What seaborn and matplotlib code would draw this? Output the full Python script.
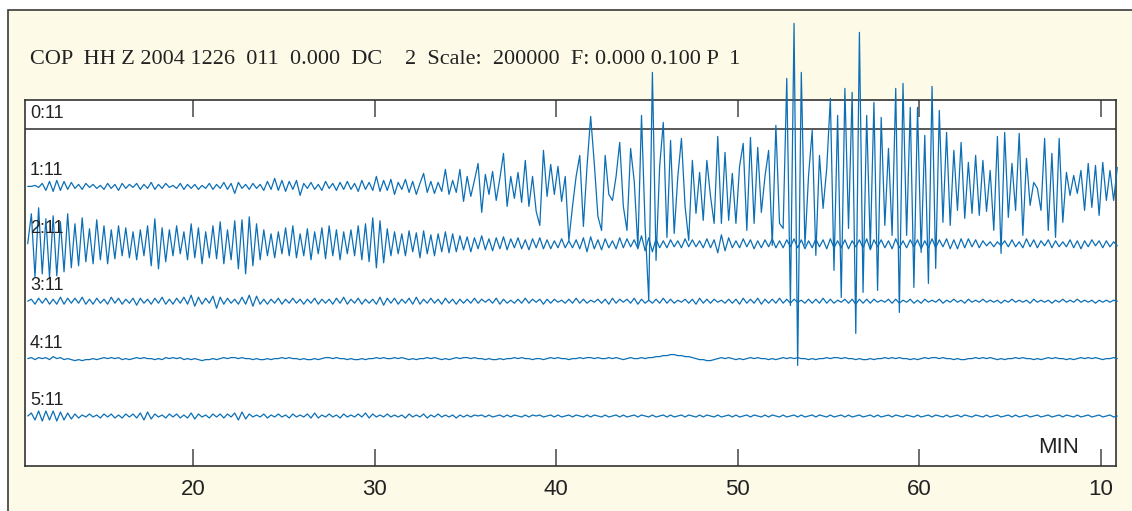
import matplotlib
matplotlib.use("Agg")
import numpy as np
import pandas as pd
import matplotlib.pyplot as plt
import seaborn as sns
from matplotlib.patches import Rectangle

# header of the helicorder page
header_left = "COP  HH Z 2004 1226  011  0.000  DC"
header_right = "2  Scale:  200000  F: 0.000 0.100 P  1"

# one line per hour, labelled with the start time
trace_labels = ["0:11", "1:11", "2:11", "3:11", "4:11", "5:11"]
t_start = 10.9      # minute of first sample
dt = 0.2            # minutes between samples

minute_ticks = [20, 30, 40, 50, 60, 70]
minute_ticklabels = ["20", "30", "40", "50", "60", "10"]

# amplitudes (display counts), one list per hour line
trace_1 = [
    0, 0, 1, -1, 3, -4, 5, -5, 6, -4, 5, -3, 4,
    -2, 2, -3, 3, -1, 2, -2, 1, -3, 3, -2, 2, -4, 3, -2, 2, -1, 3, -3, 2,
    -2, 4, -3, 2, -2, 3, -1, 1, -2, 3, -3, 2, -2,
    2, -3, 1, -2, 3, -3, 2, -2, 4, -3, 3, -7, 4, -2, 2,
    -3, 3, -2, 2, -4, 5, -3, 8, -4, 6, -5, 5, -3, 6, -9, 3, -2, 4, -3, 2,
    -4, 5, -2, 3, -4, 4, -3, 5, -3, 3, -5, 6, -3, 4, -4, 10,
    -5, 6, -4, 7, -8, 4, -3, 7, -6, 5, -8, 3, 13, -6, 5, -7, 4, -5, 17, -8, 6, -6,
    17, -15, 10, -10, 6, 23, -26,
    12, -8, 15, -14, 8, 33, -20, 10, -12, 14, -16, 26, -20, 10, -25,
    -39, 36, -10, 22, -8, 20, -15, 10, -54,
    -20, 10, 31, -40, 20, 70, 23, -30, -44, 31,
    -8, -14, 10, 44, -20, -44, 38, 5, -61, 71,
    -40, -114, 114, -74, 20, 64, -51, 46, -47, 10,
    48, -20, -54, 26, -27, 14, -34, 26, -10, -37,
    50, -37, 34, -34, 13, -37, 20, 43, -44, 49,
    -37, 39, -26, 10, 36, -59, 61, -37, -42, 108,
    -119, 163, -179, 114, -59, 11, 56, -69, 31, -22,
    18, 88, -84, 71, -111, 98, -42, 94, -147, 154,
    -106, 71, -62, 84, -104, 69, -39, 38, -49, 98,
    -126, 103, -49, 79, -101, 79, -66, 51, -97, 100,
    -82, 76, -36, 54, -39, 36, -24, 44, -32, 24,
    -27, 31, -29, 26, -25, 16, -44, 50, -67, 54,
    -31, 23, -24, 53, -49, 28, -19, 4, -2, -24,
    48, -44, 33, -51, 48, -36, 14, -9, 11, -7,
    16, -24, 23, -21, 21, -29, 24, -14, 16, -14,
    19,
]

trace_2 = [
    0, 30, -33, 36, -30, 25, -34, 28, -32, 22, -28, 30, -24,
    20, -22, 26, -18, 15, -20, 24, -16, 18, -20, 14, -15, 18, -12, 16, -14, 12, -16,
    14, -12, 18, -22, 25, -25, 16, -18, 14, -12, 18, -10, 12, -16, 20,
    -14, 16, -20, 12, -14, 18, -15, 22, -20, 14, -16, 23, -25, 24, -30, 27, -22,
    20, -16, 14, -12, 10, -14, 12, -10, 16, -12, 18, -14, 10, -12, 15, -16, 12,
    -10, 16, -15, 18, -12, 14, -16, 12, -10, 14, -12, 18, -16, 20, -18, 26,
    -24, 23, -19, 15, -12,
    12, -10, 10, -12, 13, -8, 11, -14, 13, -10, 9, -12, 10, -8, 12, -9, 10, -8,
    8, -6, 7, -8, 6, -5, 8, -6, 5, -7, 6, -5, 7, -6, 5, -4,
    6, -5, 4, -6, 5, -4, 6, -5, 4, -5, 3, -4, 5, -4, 3, -4,
    4, -5, 6, -8, 7, -5, 4, -6, 5, -4, 3, -5, 6, -4, 5, -3, 4, -5, 8, -7,
    6, -8, 5, -4, 3, -4, 4, -3, 3, -4, 5, -3, 4, -3, 3, -4, 5, -4, 4, -9,
    9, -7, 6, -4, 3, -4, 5, -3, 4, -5, 3, -4, 4, -3, 5, -4, 3, -4, 4, -3,
    5, -4, 4, -5, 3, -4, 5, -3, 4, -5, 5, -4, 3, -4, 4, -5, 3, -3, 4, -4,
    5, -6, 4, -3, 4, -4, 3, -5, 5, -4, 3, -4, 4, -3, 4, -5, 3, -4, 5, -4,
    4, -3, 5, -5, 4,
    -5, 5, -4, 5, -3, 4, -4, 3, -2, 2, -3, 2, -2, 3, -3, 4, -3, 2, -4, 5,
    -3, 4, -4, 3, -2, 4, -4, 3, -3, 2, -3, 4, -4, 3, -5, 3, -3, 4, -2, 3,
    -4, 3, -3, 2, -2,
]

trace_3 = [
    0, 2, -3, 3, -2, 3, -3, 2, -3, 4, -3, 3, -2,
    3, -2, 4, -3, 2, -3, 3, -2, 2, -3, 4, -2, 3, -3, 2, -2, 3, -4, 3, -2,
    2, -3, 3, -2, 4, -3, 2, -3,
    3, -2, 4, -3, 6, -5, 4, -3, 3, -2, 5, -7, 4, -3, 3, -2, 2, -3, 4, -3,
    6, -5, 5, -3, 2,
    -3, 2, -2, 3, -3, 2, -2, 3, -2, 2, -3, 2, -2, 3, -3, 2, -2, 2, -3, 3,
    -2, 4, -3, 2, -2, 3, -3, 2, -2, 2, -3, 4, -4, 3, -2, 3, -3, 2, -2, 3,
    -3, 4, -3, 2, -2, 3, -2, 2, -3, 3, -2, 2, -3, 2, -2,
    2, -2, 3, -2, 2, -1, 2, -2, 3, -3, 2, -2, 1, -2, 2, -2, 3, -2, 2, -1,
    2, -3, 2, -2, 2, -1, 1, -2, 2, -2, 3, -2, 2, -2, 1, -1, 2, -2, 2, -3,
    3, -2, 2, -1, 2, -2, 3, -3, 2, -2, 1, -2, 2, -2, 3, -2, 2, -2, 1, -1,
    2, -2, 2, -3, 3, -2, 2, -2, 2, -1, 1, -2, 2, -2, 2, -3, 3, -2, 2, -2,
    3, -3, 2, -2, 2, -2, 3, -2, 2, -2, 2, -1, 1, -2, 2, -2, 2, -2, 3, -2,
    2, -2, 1, -1, 2, -2, 2, -3, 2, -2, 2, -2, 2, -1, 1, -1, 2, -2, 2, -2,
    1, -1, 2, -2, 1, -2, 2, -1, 1, -1, 2, -2, 1, -1, 2, -1, 1, -2, 2, -1,
    1, -1, 2, -1, 1, -1, 1, -2, 1, -1, 2, -1, 1, -1, 1, -2, 2, -1, 1, -1,
    1, -2, 1, -1, 2, -1, 1, -1, 2, -1, 1, -1, 1, -2, 1, -1, 1, -1, 1, 0,
]

trace_4 = [
    0, 1, -1, 1, 0, 1, -1, 2, 0, 1, -1, 0, -1, -2, -1, -2, -1, -1, 0, -1,
    0, 1, 0, 1, 0, 1, -1, 0, -1, 0, 1, 0, 1, 0, 0, -1, 0, -1, 1, 0, 1,
    0, 1, -1, 0, -1, 0, -1, -2, -1, -1, 0, -1, 0, 1, 0, 1, 1, 0, 1, 0,
    0, -1, 0, -1, -1, 0, -1, 0, 0, 1, 0, 1, 0, 0, -1, 0, -1, -1, 0, -1,
    0, 1, 1, 0, 1, 0, 0, -1, 0, -1, -1, 0, -1, 0, 0, 1, 0, 1, 0, 0,
    1, 0, 1, 0, -1, 0, -1, 0, 0, 1, 0, 1, 0, -1, 0, -1, 0, 1, 0, 1,
    1, 0, 1, 0, 0, -1, 0, -1, -1, 0, -1, 0, 0, 1, 0, 1, 0, 0, -1, 0,
    0, -1, 0, 1, 0, 1, 0, 0, -1, 0, 0, 1, 0, 1, 1, 0, 1, 0, 0, 1,
    0, 1, 0, -1, 0, 1, 0, 0, 1, 0, 1, 1, 2, 2, 3, 3, 4, 4, 3, 3,
    2, 2, 1, 0, -1, -1, -2, -2, -1, 0,
    1, 0, 1, 0, -1, 0, -1, 0, 1, 0, 1, 0, 0, -1, 0, -1, 0, 1, 0, 1,
    0, 1, 0, 0, -1, 0, -1, 0, 0, 1, 0, 1, 1, 0, 1, 0, 0, -1, 0, -1,
    -1, 0, -1, 0, 0, 1, 0, 1, 0, 1, 0, 0, -1, 0, -1, 0, 1, 0, 1, 1,
    0, 1, 0, 0, -1, 0, -1, -1, 0, 0, 1, 0, 1, 0, 1, 0, -1, 0, -1, 0,
    0, 1, 0, 1, 0, 0, -1, 0, -1, 0, 1, 0, 1, 0, 0, -1, 0, -1, 0, 1,
    0, 1, 0, 1, 0, -1, 0, 0, 1, 0,
]

trace_5 = [
    0, 3, -4, 5, -5, 5, -4, 5, -5, 4, -4, 3, -3, 2, -2, 1,
    -1, 2, -1, 1, -2, 2, -1, 2, -2, 1, -2, 2, -1, 2, -2, 3, -4, 4, -3, 2,
    -1, 1, -2, 2, -1, 2, -2, 1, -2, 3, -3, 2, -1, 1, -2, 2, -1, 2, -2, 2,
    -1, 3, -4, 4, -3,
    2, -1, 1, -1, 2, -2, 1, -1, 2, -1, 1, -2, 2, -1, 1, -1, 2, -2, 3, -2,
    1, -1, 2, -1, 1, -2, 2, -1, 1, -1, 2, -1, 3, -2, 2, -1, 1, -1, 2, -1,
    1, -1, 1, -2, 2, -1, 1, -1, 2, -2, 1, -1, 2, -1, 1, -1, 1, -2, 1, -1,
    1, -1, 1, 0, 1, -1, 1, -1, 0, 1, -1, 1, -1, 1, 0, -1, 1, -1, 1, 0,
    1, -1, 0, 1, -1, 1, -1, 0, 1, -1, 1, 0, -1, 1, -1, 1, 0, -1, 1, -1,
    0, 1, -1, 1, -1, 0, 1, -1, 1, 0, -1, 1, -1, 0, 1, -1, 1, -1, 0, 1,
    -1, 1, 0, -1, 1, -1, 1, 0, -1, 1, -1, 0, 1, -1, 1, -1, 0, 1, -1, 1,
    0, -1, 1, -1, 1, 0, -1, 1, -1, 0, 1, -1, 1, -1, 0, 1, -1, 1, 0, -1,
    1, -1, 0, 1, -1, 1, -1, 0, 1, -1, 0, 1, -1, 1, -1, 0, 1, -1, 1, 0,
    -1, 1, 0, -1, 1, -1, 0, 1, -1, 1, 0, -1, 1, -1, 0, 1, -1, 1, 0, -1,
    1, 0, -1, 1, -1, 0, 1, -1, 0, 1, -1, 1, -1, 0, 1, -1, 0, 1, -1, 0,
    1, -1, 0, 1, -1, 1, 0, -1, 1, -1, 0, 1, -1, 0, 1, -1, 0, 1, -1, 0,
]

traces = [trace_1, trace_2, trace_3, trace_4, trace_5]

W, H = 1132, 511
spacing = 57.4          # vertical distance between hour lines
BEIGE = "#fefae8"
BLUE = "#0c6fb6"
INK = "#222222"

sns.set_style("white")
plt.rcParams["font.family"] = ["Liberation Sans", "DejaVu Sans"]

rows = []
for k, vals in enumerate(traces, start=1):
    v = np.asarray(vals, dtype=float)
    t = t_start + dt * np.arange(len(v))
    rows.append(pd.DataFrame({"hour": trace_labels[k], "minute": t,
                              "y": v - k * spacing}))
df = pd.concat(rows, ignore_index=True)

fig = plt.figure(figsize=(W / 100, H / 100), dpi=100, facecolor="white")
fig.add_artist(Rectangle((8 / W, -0.05), 1.0, 1 - 10 / H + 0.05,
                         transform=fig.transFigure, facecolor=BEIGE,
                         edgecolor="#3a3a3a", lw=1.2, zorder=-1))
ax = fig.add_axes([25 / W, 45 / H, 1091 / W, 366 / H])
ax.set_facecolor("white")

# 0:11 line carries no signal - drawn as the dark base line
ax.axhline(0, color="#2b2b2b", lw=1.1, zorder=2)

for k in range(1, len(trace_labels)):
    sub = df[df["hour"] == trace_labels[k]]
    sns.lineplot(data=sub, x="minute", y="y", ax=ax, color=BLUE, lw=0.9,
                 sort=False, estimator=None, clip_on=False, zorder=3,
                 solid_joinstyle="round")

for k, lab in enumerate(trace_labels):
    ax.text(11.03, -k * spacing + 11, lab, fontsize=13, color=INK,
            va="baseline", ha="left", zorder=4)

ax.set_xlim(10.75, 70.83)
ax.set_ylim(-337, 29)
ax.set_xticks(minute_ticks)
ax.set_xticklabels(minute_ticklabels, fontsize=16, color=INK)
ax.set_xticks([60], minor=True)
ax.tick_params(axis="x", which="major", direction="in", length=12, width=1.2,
               color="#555555", top=True, bottom=True, pad=9)
ax.tick_params(axis="x", which="minor", direction="in", length=25, width=1.2,
               color="#555555", top=True, bottom=True)
ax.set_yticks([])
ax.set_xlabel("")
ax.set_ylabel("")
for s in ax.spines.values():
    s.set_color("#333333")
    s.set_linewidth(1.2)

ax.text((1038 - 25) / 1091, (466 - 453) / 366, "MIN", transform=ax.transAxes,
        fontsize=16, color=INK, va="baseline", ha="left")

fig.text(30 / W, 1 - 64 / H, header_left, family=["Liberation Serif", "DejaVu Serif"],
         fontsize=16, color=INK, va="baseline")
fig.text(405 / W, 1 - 64 / H, header_right, family=["Liberation Serif", "DejaVu Serif"],
         fontsize=16, color=INK, va="baseline")

fig.savefig("out.png", dpi=100, facecolor=fig.get_facecolor())
